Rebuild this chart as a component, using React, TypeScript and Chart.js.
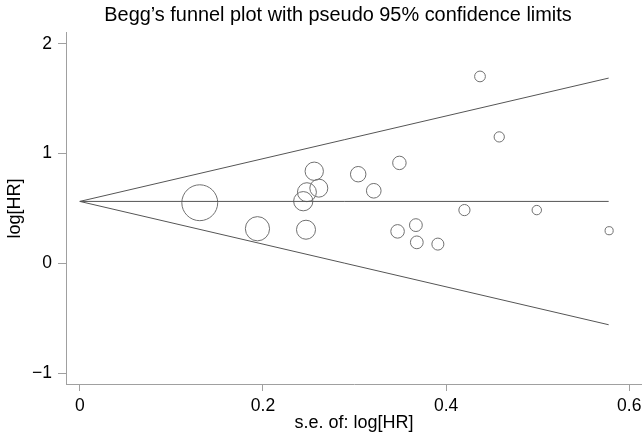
import React, { useEffect, useRef } from "react";
import { Chart, registerables } from "chart.js";

Chart.register(...registerables);

// Study estimates: standard error vs log hazard ratio
const seValues = [0.131, 0.194, 0.247, 0.256, 0.248, 0.261, 0.244, 0.437, 0.458, 0.349, 0.304, 0.321, 0.42, 0.499, 0.578, 0.367, 0.347, 0.368, 0.391];
const logHR = [0.552, 0.315, 0.306, 0.839, 0.648, 0.685, 0.566, 1.703, 1.152, 0.915, 0.812, 0.661, 0.485, 0.485, 0.297, 0.348, 0.291, 0.191, 0.175];

// Pooled estimate line and pseudo 95% confidence limits
const limitSe = [0, 0.5775];
const pooledLine = [0.564, 0.564];
const upperLimit = [0.564, 1.688];
const lowerLimit = [0.564, -0.56];

const xTicks = [0, 0.2, 0.4, 0.6];
const yTicks = [-1, 0, 1, 2];

const titleText = "Begg\u2019s funnel plot with pseudo 95% confidence limits";
const xTitle = "s.e. of: log[HR]";
const yTitle = "log[HR]";

const FONT = '"Liberation Sans", Arial, Helvetica, sans-serif';

export default function App() {
  const ref = useRef<HTMLCanvasElement | null>(null);

  useEffect(() => {
    document.body.style.margin = "0";
    const canvas = ref.current;
    if (!canvas) return;
    Chart.defaults.font.family = FONT;

    const pts = seValues.map((s, i) => ({ x: s, y: logHR[i] }));
    const line = (vals: number[]) => limitSe.map((s, i) => ({ x: s, y: vals[i] }));

    const axisColor = "#a0a0a0";

    const chart = new Chart(canvas, {
      type: "scatter",
      data: {
        datasets: [
          {
            type: "line",
            data: line(pooledLine),
            borderColor: "#555555",
            borderWidth: 1,
            pointRadius: 0,
            fill: false,
          },
          {
            type: "line",
            data: line(upperLimit),
            borderColor: "#555555",
            borderWidth: 1,
            pointRadius: 0,
            fill: false,
          },
          {
            type: "line",
            data: line(lowerLimit),
            borderColor: "#555555",
            borderWidth: 1,
            pointRadius: 0,
            fill: false,
          },
          {
            type: "scatter",
            data: pts,
            borderColor: "#707070",
            backgroundColor: "rgba(0,0,0,0)",
            borderWidth: 1,
            pointRadius: (ctx: any) => 2.35 / (ctx.raw ? ctx.raw.x : 1),
            pointHoverRadius: (ctx: any) => 2.35 / (ctx.raw ? ctx.raw.x : 1),
          },
        ],
      },
      options: {
        responsive: false,
        animation: false,
        devicePixelRatio: 1,
        layout: { padding: 0 },
        plugins: {
          legend: { display: false },
          tooltip: { enabled: false },
          title: {
            display: true,
            text: titleText,
            color: "#000",
            font: { size: 19.9, weight: "normal", family: FONT },
            padding: { top: 4, bottom: 5 },
          },
        },
        scales: {
          x: {
            type: "linear",
            min: -0.01507,
            max: 0.6139,
            afterBuildTicks: (s: any) => {
              s.ticks = xTicks.map((v) => ({ value: v }));
            },
            afterFit: (s: any) => {
              s.height = 53;
              s.paddingLeft = 0;
              s.paddingRight = 34;
            },
            ticks: {
              color: "#000",
              font: { size: 17.5, family: FONT },
              padding: 5,
              maxRotation: 0,
              autoSkip: false,
              callback: (v: any) => String(Number(v)),
            },
            grid: {
              display: true,
              drawOnChartArea: false,
              drawTicks: true,
              tickLength: 7,
              color: axisColor,
            },
            border: { display: true, color: axisColor },
            title: {
              display: true,
              text: xTitle,
              color: "#000",
              font: { size: 18, family: FONT },
              padding: { top: 0, bottom: 3 },
            },
          },
          y: {
            type: "linear",
            min: -1.1,
            max: 2.1,
            afterBuildTicks: (s: any) => {
              s.ticks = yTicks.map((v) => ({ value: v }));
            },
            afterFit: (s: any) => {
              s.width = 66;
            },
            ticks: {
              color: "#000",
              font: { size: 17.5, family: FONT },
              padding: 6,
              autoSkip: false,
              callback: (v: any) => {
                const n = Number(v);
                return n < 0 ? "\u2212" + Math.abs(n) : String(n);
              },
            },
            grid: {
              display: true,
              drawOnChartArea: false,
              drawTicks: true,
              tickLength: 8,
              color: axisColor,
            },
            border: { display: true, color: axisColor },
            title: {
              display: true,
              text: yTitle,
              color: "#000",
              font: { size: 18, family: FONT },
              padding: { top: 4, bottom: 0 },
            },
          },
        },
      },
    } as any);

    return () => {
      chart.destroy();
    };
  }, []);

  return (
    <div style={{ width: 642, height: 437, overflow: "hidden", position: "relative", background: "#fff" }}>
      <canvas ref={ref} width={676} height={437} style={{ display: "block", width: 676, height: 437 }} />
    </div>
  );
}
